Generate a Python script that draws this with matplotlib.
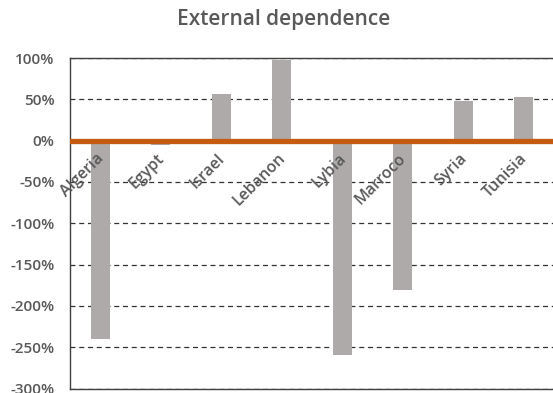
import matplotlib

matplotlib.use("Agg")
import matplotlib.pyplot as plt
from matplotlib.ticker import FuncFormatter, MultipleLocator

countries = ["Algeria", "Egypt", "Israel", "Lebanon", "Lybia", "Marroco", "Syria", "Tunisia"]
dependence = [-240, -5, 57, 97, -260, -181, 48, 53]  # percent
y_ticks = [100, 50, 0, -50, -100, -150, -200, -250, -300]

BAR_COLOR = "#aeaaaa"
LINE_COLOR = "#c55a11"
TEXT_COLOR = "#595959"
FONT = "Open Sans"

fig = plt.figure(figsize=(5.53, 3.93), dpi=100)
ax = fig.add_axes([70 / 553, 1 - 388.5 / 393, 484 / 553, 330.5 / 393])

x = range(len(countries))
ax.bar(x, dependence, width=0.32, color=BAR_COLOR, zorder=2)
ax.axhline(0, color=LINE_COLOR, lw=3.8, zorder=3)

ax.set_xlim(-0.5, len(countries) - 0.5)
ax.set_ylim(min(y_ticks), max(y_ticks))
ax.yaxis.set_major_locator(MultipleLocator(50))
ax.yaxis.set_major_formatter(FuncFormatter(lambda v, _: f"{v:.0f}%"))
ax.grid(axis="y", color="#333333", ls=(0, (4, 3)), lw=0.9, zorder=1)
ax.set_xticks([])
ax.tick_params(axis="y", length=0, pad=11, labelsize=11, labelcolor=TEXT_COLOR)
for lbl in ax.get_yticklabels():
    lbl.set_fontfamily(FONT)
    lbl.set_fontweight("semibold")

for side in ["top", "left", "bottom", "right"]:
    ax.spines[side].set_color("#404040")
    ax.spines[side].set_linewidth(1.0)

# category names sit just under the zero line, rotated like the axis labels
for i, name in enumerate(countries):
    ax.annotate(name, xy=(i, 0), xytext=(5, -7), textcoords="offset points",
                ha="right", va="top", rotation=45, fontsize=11.5,
                fontfamily=FONT, fontweight="semibold", color=TEXT_COLOR,
                zorder=4)

fig.text(284 / 553, 1 - 19 / 393, "External dependence", ha="center", va="center",
         fontsize=15, fontfamily=FONT, fontweight="semibold", color=TEXT_COLOR)

fig.savefig("out.png", dpi=100)
